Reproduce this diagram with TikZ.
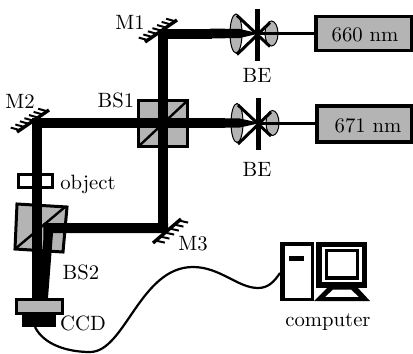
\documentclass[tikz,border=0pt]{standalone}
\usetikzlibrary{calc}
\definecolor{pgray}{HTML}{B4B4B4}
\tikzset{
 x=1pt,y=-1pt,
 lbl/.style={scale=2.07,inner sep=0pt,anchor=center},
 beam/.style={line width=10.4pt,black},
 optic/.style={draw=black,line width=3pt,fill=pgray},
 lens/.style={draw=black,line width=1pt,fill=pgray},
 ray/.style={line width=3pt,black},
 mirror/.style={line width=3.4pt,black},
 hatch/.style={line width=2pt,black},
 cable/.style={line width=2.2pt,black},
 diag/.style={line width=2.4pt,black},
}
\newcommand{\bexp}[2]{%
 \draw[lens] (#1-21,#2) ellipse [x radius=6,y radius=19.5];
 \draw[lens] (#1+14.5,#2) ellipse [x radius=6.5,y radius=12.5];
 \fill[black] (210,#2-5) -- (240,#2-4.5) -- (#1,#2-0.5) -- (#1,#2+0.5) -- (240,#2+4.5) -- (210,#2+5) -- cycle;
 \draw[line width=5pt] (#1,#2-25) -- (#1,#2+27);
 \draw[ray] (#1-20,#2-18) -- (#1+13,#2+13);
 \draw[ray] (#1-20,#2+21) -- (#1+13,#2-11);
 \draw[ray] (#1,#2) -- (#1+59,#2);
}
\newcommand{\hatched}[7]{%
 \draw[mirror] (#1,#2) -- (#3,#4);
 \foreach \i in {1,...,#7}{
  \pgfmathsetmacro{\t}{(\i-0.4)/#7}
  \draw[hatch] ($(#1,#2)!\t!(#3,#4)$) -- ++(#5,#6);
 }
}
\begin{document}
\begin{tikzpicture}
\useasboundingbox (0,0) rectangle (413,354);
\fill[white] (0,0) rectangle (413,354);
% beam expanders
\bexp{257}{33.5}
\bexp{258}{123}
% BS1
\draw[optic] (138.5,100.5) rectangle (187.5,146.5);
\draw[diag] (139,146) -- (187,101);
% main beams
\draw[beam] (163,233) -- (163,34) -- (212,34);
\draw[beam] (212,123) -- (37,123) -- (37,205);
% object
\draw[black,line width=3pt] (18,174) rectangle (52.5,187);
% BS2
\draw[optic] (17,204) -- (67,207) -- (63,252) -- (15,249) -- cycle;
\draw[diag] (15,249) -- (65,207);
\fill[black] (32,200) rectangle (42,298);
\fill[black] (43.3,223) -- (168,223) -- (168,233) -- (53,233) -- (48,298) -- (38,298) -- (43.3,240) -- cycle;
% mirrors
\hatched{145}{42}{177}{20}{-9}{-2.5}{7}
\hatched{17}{132}{49}{110}{-9}{-2.5}{7}
\hatched{153}{243}{181}{219}{9}{2}{6}
% lasers
\draw[optic,line width=3.4pt] (316,16.5) rectangle (411.5,50.5);
\draw[optic,line width=3.4pt] (317,106) rectangle (411.5,142);
% CCD
\fill[black] (22,312) rectangle (56,327);
\draw[optic] (16,299) rectangle (62,313);
\coordinate (ccdout) at (35,327);
% computer
\draw[black,line width=3.5pt] (282,244) rectangle (312.5,299.5);
\fill[black] (280,242) rectangle (285,301);
\fill[black] (289,256) rectangle (304,261);
\fill[black] (316,242) rectangle (367,288);
\fill[white] (322,247) rectangle (362,282);
\fill[black] (325,249) rectangle (359,280);
\fill[white] (328,252) rectangle (356,276);
\fill[black,even odd rule] (328,287) -- (357,287) -- (370,301) -- (314,301) -- cycle
  (333,289.5) -- (351,289.5) -- (359,297) -- (325,297) -- cycle;
\coordinate (pcin) at (280,273);
% cable
\draw[cable] (ccdout) .. controls (44,345) and (68,352) .. (90,352)
  .. controls (125,352) and (140,267) .. (193,267)
  .. controls (220,267) and (238,288) .. (258,288)
  .. controls (268,288) and (274,282) .. (pcin);
% labels
\node[lbl] (t660) at (365,35) {660 nm};
\node[lbl] (t671) at (368,126) {671 nm};
\node[lbl] (be1) at (257,75) {BE};
\node[lbl] (be2) at (257,169) {BE};
\node[lbl] (m1) at (130,22) {M1};
\node[lbl] (m2) at (20,101) {M2};
\node[lbl] (m3) at (193,244) {M3};
\node[lbl] (bs1) at (116,100) {BS1};
\node[lbl] (bs2) at (81,272) {BS2};
\node[lbl] (obj) at (88,184) {object};
\node[lbl] (ccd) at (83,323) {CCD};
\node[lbl] (comp) at (328,322) {computer};
\end{tikzpicture}
\end{document}
